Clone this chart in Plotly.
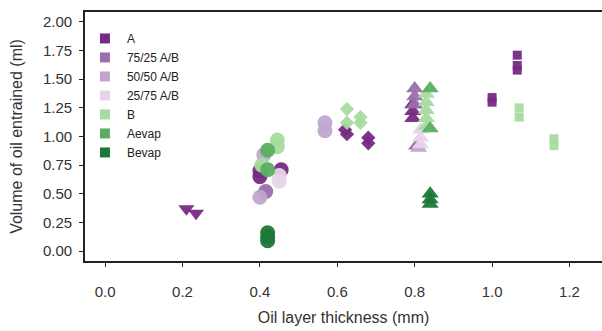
import plotly.graph_objects as go

# Oil entrainment measurements: layer thickness (mm) vs entrained volume (ml).
# run codes: 1 = square, 2 = triangle-down, 3 = circle, 4 = diamond, 5 = triangle-up
series_names = ["A", "75/25 A/B", "50/50 A/B", "25/75 A/B", "B", "Aevap", "Bevap"]

A_thickness = [0.21, 0.235, 0.40, 0.40, 0.455, 0.62, 0.625, 0.68, 0.68,
               0.795, 0.795, 0.795, 1.00, 1.00, 1.065, 1.065, 1.065]
A_volume = [0.37, 0.33, 0.70, 0.65, 0.71, 1.06, 1.02, 0.99, 0.94,
            1.28, 1.22, 1.16, 1.34, 1.30, 1.71, 1.62, 1.58]
A_run = [2, 2, 3, 3, 3, 4, 4, 4, 4, 5, 5, 5, 1, 1, 1, 1, 1]

AB75_thickness = [0.415, 0.80, 0.80, 0.80, 0.805]
AB75_volume = [0.52, 1.42, 1.35, 1.28, 0.92]
AB75_run = [3, 5, 5, 5, 5]

AB50_thickness = [0.40, 0.41, 0.568, 0.568, 0.81]
AB50_volume = [0.47, 0.84, 1.12, 1.05, 0.90]
AB50_run = [3, 3, 3, 3, 5]

AB25_thickness = [0.45, 0.45, 0.815, 0.815, 0.815]
AB25_volume = [0.66, 0.61, 1.06, 0.99, 0.93]
AB25_run = [3, 3, 5, 5, 5]

B_thickness = [0.445, 0.445, 0.405, 0.625, 0.625, 0.66, 0.66,
               0.83, 0.83, 0.83, 0.83, 0.83, 1.07, 1.07, 1.16, 1.16]
B_volume = [0.97, 0.91, 0.75, 1.24, 1.12, 1.17, 1.12,
            1.37, 1.30, 1.23, 1.16, 1.09, 1.25, 1.17, 0.98, 0.92]
B_run = [3, 3, 3, 4, 4, 4, 4, 5, 5, 5, 5, 5, 1, 1, 1, 1]

Aevap_thickness = [0.42, 0.42, 0.84, 0.84]
Aevap_volume = [0.88, 0.71, 1.42, 1.07]
Aevap_run = [3, 3, 5, 5]

Bevap_thickness = [0.42, 0.42, 0.42, 0.84, 0.84, 0.84]
Bevap_volume = [0.16, 0.12, 0.09, 0.50, 0.45, 0.41]
Bevap_run = [3, 3, 3, 5, 5, 5]

series_x = [A_thickness, AB75_thickness, AB50_thickness, AB25_thickness,
            B_thickness, Aevap_thickness, Bevap_thickness]
series_y = [A_volume, AB75_volume, AB50_volume, AB25_volume,
            B_volume, Aevap_volume, Bevap_volume]
series_run = [A_run, AB75_run, AB50_run, AB25_run, B_run, Aevap_run, Bevap_run]

colors = ["#762a83", "#9970ab", "#c2a5cf", "#e7d4e8", "#a6dba0", "#5aae61", "#1b7837"]
run_symbol = {1: "square", 2: "triangle-down", 3: "circle", 4: "diamond", 5: "triangle-up"}
run_size = {1: 9, 2: 14, 3: 15, 4: 11, 5: 15}

fig = go.Figure()

for name, xs, ys, runs, col in zip(series_names, series_x, series_y, series_run, colors):
    fig.add_trace(go.Scatter(
        x=xs, y=ys, mode="markers", name=name, showlegend=False,
        marker=dict(color=col, symbol=[run_symbol[r] for r in runs],
                    size=[run_size[r] for r in runs], opacity=0.95,
                    line=dict(width=0)),
    ))

# legend entries drawn as plain squares
for name, col in zip(series_names, colors):
    fig.add_trace(go.Scatter(
        x=[None], y=[None], mode="markers", name=name,
        marker=dict(color=col, symbol="square", size=10),
    ))

font_family = "Liberation Sans, Arial, sans-serif"

fig.update_layout(
    width=602, height=331,
    margin=dict(l=85, r=0, t=12, b=70),
    plot_bgcolor="white", paper_bgcolor="white",
    font=dict(family=font_family, color="#222222"),
    legend=dict(x=-0.004, y=0.952, xanchor="left", yanchor="top",
                bgcolor="rgba(0,0,0,0)", font=dict(size=12, color="#222222"),
                itemwidth=34, tracegroupgap=0),
    xaxis=dict(
        range=[-0.052, 1.284], tickmode="array",
        tickvals=[0.0, 0.2, 0.4, 0.6, 0.8, 1.0, 1.2], tickformat=".1f",
        ticks="outside", ticklen=4, tickwidth=1.2, tickcolor="#222222",
        showline=True, linecolor="#222222", linewidth=1.8, mirror=True,
        showgrid=False, zeroline=False,
        tickfont=dict(size=15, color="#333333"), ticklabelstandoff=12,
        title=dict(text="Oil layer thickness (mm)", font=dict(size=16, color="#333333"),
                   standoff=13),
    ),
    yaxis=dict(
        range=[-0.087, 2.087], tickmode="array",
        tickvals=[0, 0.25, 0.5, 0.75, 1.0, 1.25, 1.5, 1.75, 2.0], tickformat=".2f",
        ticks="outside", ticklen=4, tickwidth=1.2, tickcolor="#222222",
        showline=True, linecolor="#222222", linewidth=1.8,
        showgrid=False, zeroline=False,
        tickfont=dict(size=15, color="#333333"), ticklabelstandoff=4,
        title=dict(text="Volume of oil entrained (ml)", font=dict(size=16, color="#333333"),
                   standoff=16),
    ),
)

fig.write_html("out.html")
